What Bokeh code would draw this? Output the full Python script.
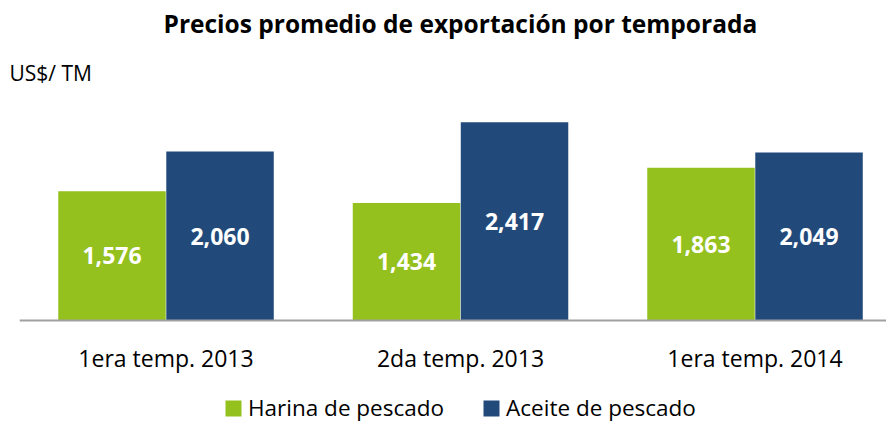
from bokeh.plotting import figure
from bokeh.models import Range1d, ColumnDataSource, Legend, LegendItem, Title, FixedTicker
from bokeh.transform import dodge
from bokeh.core.properties import value
from bokeh.embed import file_html
from bokeh.resources import INLINE

categories = ["1era temp. 2013", "2da temp. 2013", "1era temp. 2014"]
harina = [1576, 1434, 1863]
aceite = [2060, 2417, 2049]
series_names = ["Harina de pescado", "Aceite de pescado"]
title_text = "Precios promedio de exportación por temporada"
unit_text = "US$/ TM"

GREEN = "#95C11F"
BLUE = "#214A7B"
FONT = "Open Sans"

pos = list(range(len(categories)))
src = ColumnDataSource(dict(
    x=pos,
    harina=harina,
    aceite=aceite,
    harina_mid=[v / 2 for v in harina],
    aceite_mid=[v / 2 for v in aceite],
    harina_lbl=[f"{v:,}" for v in harina],
    aceite_lbl=[f"{v:,}" for v in aceite],
))

# frame spans the lower part of the canvas too; the category axis is fixed at y = 0
p = figure(width=886, height=423, output_backend="svg", toolbar_location=None,
           x_range=Range1d(-0.4975, 2.4465), y_range=Range1d(-1255, 2682),
           min_border_left=19, min_border_right=0, min_border_top=100, min_border_bottom=0)
p.outline_line_color = None
p.xgrid.visible = False
p.ygrid.visible = False
p.yaxis.visible = False

w = 0.365
off = 0.1834
r1 = p.vbar(x=dodge("x", -off), top="harina", width=w, source=src, fill_color=GREEN, line_color=None)
r2 = p.vbar(x=dodge("x", off), top="aceite", width=w, source=src, fill_color=BLUE, line_color=None)

for xs, ys, ts in [(dodge("x", -off), "harina_mid", "harina_lbl"), (dodge("x", off), "aceite_mid", "aceite_lbl")]:
    p.text(x=xs, y=ys, text=ts, source=src, text_color="white", text_font=value(FONT),
           text_font_style="bold", text_font_size="23px", text_align="center", text_baseline="middle")

ax = p.xaxis[0]
ax.fixed_location = 0
ax.ticker = FixedTicker(ticks=pos)
ax.major_label_overrides = {i: c for i, c in enumerate(categories)}
ax.major_tick_line_color = None
ax.minor_tick_line_color = None
ax.axis_line_color = "#A0A0A0"
ax.axis_line_width = 2
ax.major_label_text_font = FONT
ax.major_label_text_font_size = "23px"
ax.major_label_text_color = "black"
ax.major_label_standoff = 15

# title (outermost) and unit label
p.title = Title(text=title_text, align="left", offset=144, standoff=8,
                text_font=FONT, text_font_style="bold", text_font_size="24.5px", text_color="black")
p.add_layout(Title(text=unit_text, align="left", offset=-10, standoff=27,
                   text_font=FONT, text_font_style="normal", text_font_size="21px", text_color="black"), "above")

legend = Legend(items=[LegendItem(label=series_names[0], renderers=[r1]),
                       LegendItem(label=series_names[1], renderers=[r2])],
                orientation="horizontal", location=(204, 0),
                label_text_font=FONT, label_text_font_size="22.5px", label_text_color="black",
                glyph_width=20, glyph_height=20, label_standoff=5, spacing=37,
                padding=0, margin=0, border_line_color=None, background_fill_alpha=0)
p.add_layout(legend, "center")

open("out.html", "w").write(file_html(p, INLINE))
